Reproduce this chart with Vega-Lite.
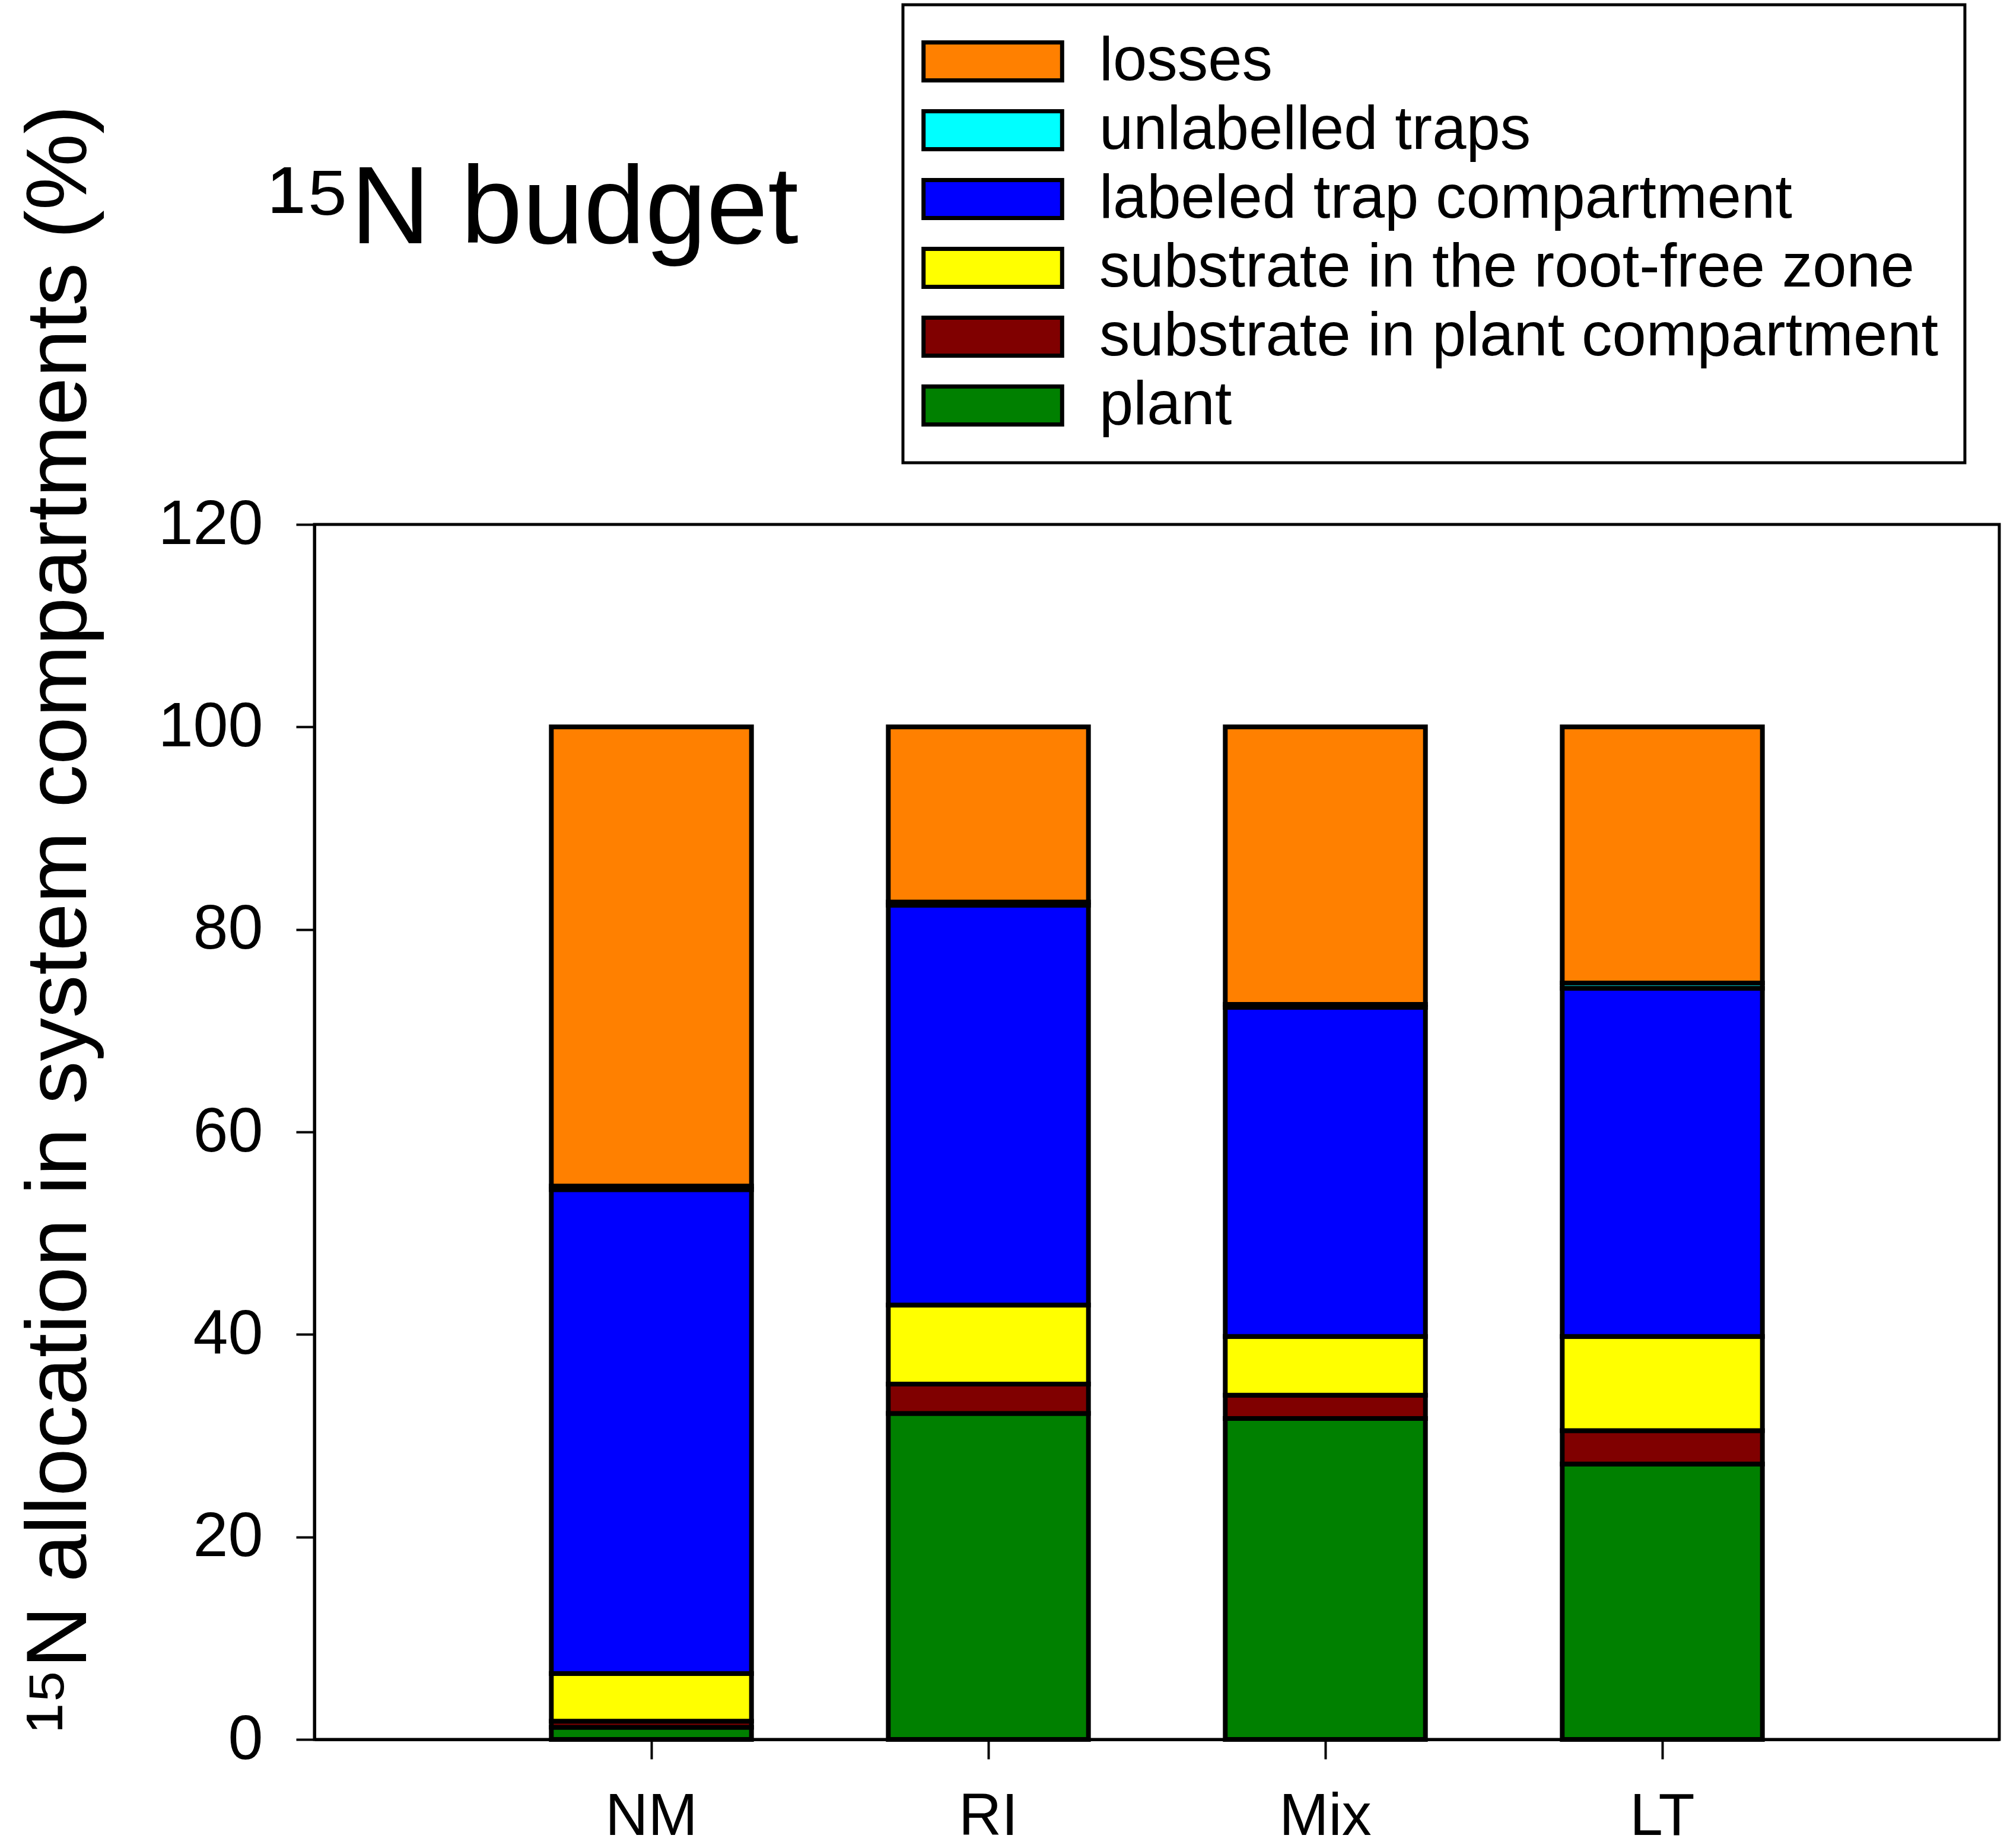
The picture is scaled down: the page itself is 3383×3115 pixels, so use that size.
{
  "$schema": "https://vega.github.io/schema/vega-lite/v6.json",
  "width": 2840,
  "height": 2048,
  "autosize": {"type": "none"},
  "padding": {"left": 530, "top": 884, "right": 13, "bottom": 183},
  "background": "white",
  "title": {
    "text": "¹⁵N budget",
    "anchor": "start",
    "frame": "group",
    "font": "Liberation Sans",
    "fontSize": 186,
    "fontWeight": "normal",
    "color": "black",
    "baseline": "alphabetic",
    "dx": -78,
    "offset": 0,
    "dy": 590
  },
  "data": {
    "values": [
      {"group": "NM", "compartment": "plant", "k": 1, "value": 1.2},
      {"group": "NM", "compartment": "substrate in plant compartment", "k": 2, "value": 0.6},
      {"group": "NM", "compartment": "substrate in the root-free zone", "k": 3, "value": 4.7},
      {"group": "NM", "compartment": "labeled trap compartment", "k": 4, "value": 47.8},
      {"group": "NM", "compartment": "unlabelled traps", "k": 5, "value": 0.35},
      {"group": "NM", "compartment": "losses", "k": 6, "value": 45.35},
      {"group": "RI", "compartment": "plant", "k": 1, "value": 32.2},
      {"group": "RI", "compartment": "substrate in plant compartment", "k": 2, "value": 2.9},
      {"group": "RI", "compartment": "substrate in the root-free zone", "k": 3, "value": 7.8},
      {"group": "RI", "compartment": "labeled trap compartment", "k": 4, "value": 39.5},
      {"group": "RI", "compartment": "unlabelled traps", "k": 5, "value": 0.3},
      {"group": "RI", "compartment": "losses", "k": 6, "value": 17.3},
      {"group": "Mix", "compartment": "plant", "k": 1, "value": 31.7},
      {"group": "Mix", "compartment": "substrate in plant compartment", "k": 2, "value": 2.3},
      {"group": "Mix", "compartment": "substrate in the root-free zone", "k": 3, "value": 5.8},
      {"group": "Mix", "compartment": "labeled trap compartment", "k": 4, "value": 32.5},
      {"group": "Mix", "compartment": "unlabelled traps", "k": 5, "value": 0.3},
      {"group": "Mix", "compartment": "losses", "k": 6, "value": 27.4},
      {"group": "LT", "compartment": "plant", "k": 1, "value": 27.2},
      {"group": "LT", "compartment": "substrate in plant compartment", "k": 2, "value": 3.3},
      {"group": "LT", "compartment": "substrate in the root-free zone", "k": 3, "value": 9.3},
      {"group": "LT", "compartment": "labeled trap compartment", "k": 4, "value": 34.4},
      {"group": "LT", "compartment": "unlabelled traps", "k": 5, "value": 0.5},
      {"group": "LT", "compartment": "losses", "k": 6, "value": 25.3}
    ]
  },
  "mark": {"type": "bar", "stroke": "black", "strokeWidth": 8},
  "encoding": {
    "x": {
      "field": "group",
      "type": "nominal",
      "sort": ["NM", "RI", "Mix", "LT"],
      "scale": {"paddingInner": 0.406, "paddingOuter": 0.703},
      "axis": {
        "title": null,
        "labelAngle": 0,
        "labelFont": "Liberation Sans",
        "labelFontSize": 100,
        "labelColor": "black",
        "labelPadding": 48,
        "tickSize": 33,
        "tickWidth": 4,
        "tickColor": "black",
        "domainColor": "black",
        "domainWidth": 5
      }
    },
    "y": {
      "field": "value",
      "type": "quantitative",
      "stack": "zero",
      "scale": {"domain": [0, 120], "nice": false},
      "axis": {
        "title": "¹⁵N allocation in system compartments (%)",
        "titleFont": "Liberation Sans",
        "titleFontSize": 145,
        "titleFontWeight": "normal",
        "titleColor": "black",
        "titleAngle": -90,
        "titleAlign": "left",
        "titleBaseline": "alphabetic",
        "titleX": -386,
        "titleY": 2036,
        "values": [0, 20, 40, 60, 80, 100, 120],
        "grid": false,
        "labelFont": "Liberation Sans",
        "labelFontSize": 106,
        "labelColor": "black",
        "labelPadding": 56,
        "tickSize": 31,
        "tickWidth": 4,
        "tickColor": "black",
        "domainColor": "black",
        "domainWidth": 5
      }
    },
    "color": {
      "field": "compartment",
      "type": "nominal",
      "scale": {
        "domain": ["losses", "unlabelled traps", "labeled trap compartment", "substrate in the root-free zone", "substrate in plant compartment", "plant"],
        "range": ["#FF8000", "#00FFFF", "#0000FF", "#FFFF00", "#800000", "#008000"]
      },
      "legend": {
        "title": null,
        "orient": "none",
        "legendX": 992,
        "legendY": -876,
        "padding": 44,
        "fillColor": "white",
        "strokeColor": "black",
        "symbolType": "M-1.9,-1H5.4V1H-1.9Z",
        "symbolSize": 4096,
        "symbolStrokeColor": "black",
        "symbolStrokeWidth": 7,
        "symbolOpacity": 1,
        "labelFont": "Liberation Sans",
        "labelFontSize": 103,
        "labelColor": "black",
        "labelOffset": 184,
        "labelLimit": 3000,
        "labelBaseline": "middle",
        "labelExpr": "datum.label + '\u00a0\u00a0'",
        "rowPadding": 12,
        "encode": {"legend": {"update": {"strokeWidth": {"value": 5}}}}
      }
    },
    "order": {"field": "k", "type": "quantitative"}
  },
  "config": {
    "view": {"stroke": "black", "strokeWidth": 5},
    "font": "Liberation Sans"
  }
}
